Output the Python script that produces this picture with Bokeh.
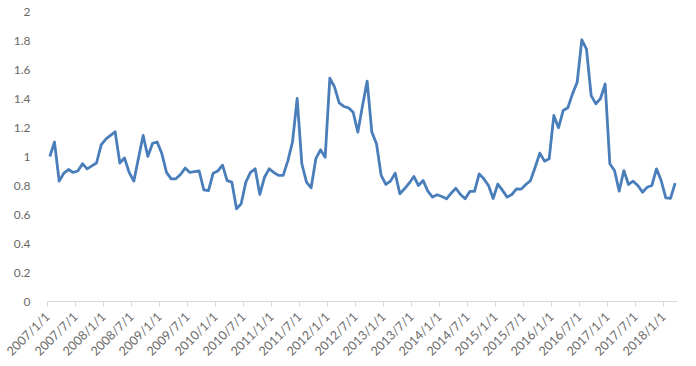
import math
from bokeh.plotting import figure
from bokeh.models import Range1d, FixedTicker, ColumnDataSource
from bokeh.embed import file_html
from bokeh.resources import INLINE

# Monthly series, 2007/1 .. 2018/3
values = [
    1.00, 1.10, 0.83, 0.885, 0.91, 0.89, 0.90, 0.95, 0.915, 0.935, 0.955, 1.08,
    1.12, 1.145, 1.17, 0.955, 0.99, 0.89, 0.83, 0.99, 1.145, 1.00, 1.09, 1.10,
    1.02, 0.89, 0.846, 0.846, 0.876, 0.92, 0.89, 0.895, 0.90, 0.77, 0.765, 0.885,
    0.90, 0.94, 0.834, 0.823, 0.64, 0.674, 0.823, 0.89, 0.915, 0.738, 0.857, 0.915,
    0.89, 0.87, 0.87, 0.97, 1.10, 1.40, 0.95, 0.823, 0.784, 0.985, 1.046, 0.995,
    1.54, 1.48, 1.37, 1.345, 1.336, 1.305, 1.168, 1.35, 1.52, 1.168, 1.088, 0.87,
    0.807, 0.83, 0.885, 0.743, 0.777, 0.816, 0.862, 0.80, 0.834, 0.761, 0.72, 0.736,
    0.724, 0.708, 0.747, 0.781, 0.738, 0.708, 0.759, 0.76, 0.88, 0.846, 0.80, 0.71,
    0.81, 0.766, 0.72, 0.738, 0.777, 0.775, 0.807, 0.834, 0.926, 1.023, 0.968, 0.984,
    1.283, 1.198, 1.317, 1.336, 1.432, 1.512, 1.805, 1.74, 1.42, 1.363, 1.40, 1.50,
    0.95, 0.903, 0.761, 0.903, 0.807, 0.83, 0.80, 0.754, 0.788, 0.80, 0.915, 0.834,
    0.715, 0.712, 0.816,
]
months = list(range(len(values)))

tick_labels = [
    "2007/1/1", "2007/7/1", "2008/1/1", "2008/7/1", "2009/1/1", "2009/7/1",
    "2010/1/1", "2010/7/1", "2011/1/1", "2011/7/1", "2012/1/1", "2012/7/1",
    "2013/1/1", "2013/7/1", "2014/1/1", "2014/7/1", "2015/1/1", "2015/7/1",
    "2016/1/1", "2016/7/1", "2017/1/1", "2017/7/1", "2018/1/1",
]
y_ticks = [0, 0.2, 0.4, 0.6, 0.8, 1, 1.2, 1.4, 1.6, 1.8, 2]
y_labels = ["0", "0.2", "0.4", "0.6", "0.8", "1", "1.2", "1.4", "1.6", "1.8", "2"]

x_tick_pos = [-0.5 + 6 * i for i in range(len(tick_labels))]

source = ColumnDataSource(data=dict(x=months, y=values))

p = figure(width=696, height=366, output_backend="svg", toolbar_location=None,
           x_range=Range1d(-0.5, len(values) - 0.5), y_range=Range1d(0, 2),
           min_border_left=47, min_border_right=19, min_border_top=11,
           min_border_bottom=65)

p.line("x", "y", source=source, line_color="#4A7EBB", line_width=2.8,
       line_join="round")

p.outline_line_color = None
p.grid.visible = False
p.background_fill_color = "white"
p.border_fill_color = "white"

lab_color = "#6A6A6A"
font = "Lato"

xa = p.xaxis[0]
xa.ticker = FixedTicker(ticks=x_tick_pos)
xa.major_label_overrides = {pos: lab for pos, lab in zip(x_tick_pos, tick_labels)}
xa.major_label_orientation = math.pi / 4
xa.axis_line_color = "#D9D9D9"
xa.major_tick_line_color = "#D9D9D9"
xa.major_tick_out = 5
xa.major_tick_in = 0
xa.minor_tick_line_color = None
xa.major_label_text_color = lab_color
xa.major_label_text_font = font
xa.major_label_text_font_size = "12.5px"
xa.major_label_standoff = 8

ya = p.yaxis[0]
ya.ticker = FixedTicker(ticks=y_ticks)
ya.major_label_overrides = {t: l for t, l in zip(y_ticks, y_labels)}
ya.axis_line_color = None
ya.major_tick_line_color = None
ya.minor_tick_line_color = None
ya.major_label_text_color = lab_color
ya.major_label_text_font = font
ya.major_label_text_font_size = "12px"
ya.major_label_standoff = 11

open("out.html", "w").write(file_html(p, INLINE))
